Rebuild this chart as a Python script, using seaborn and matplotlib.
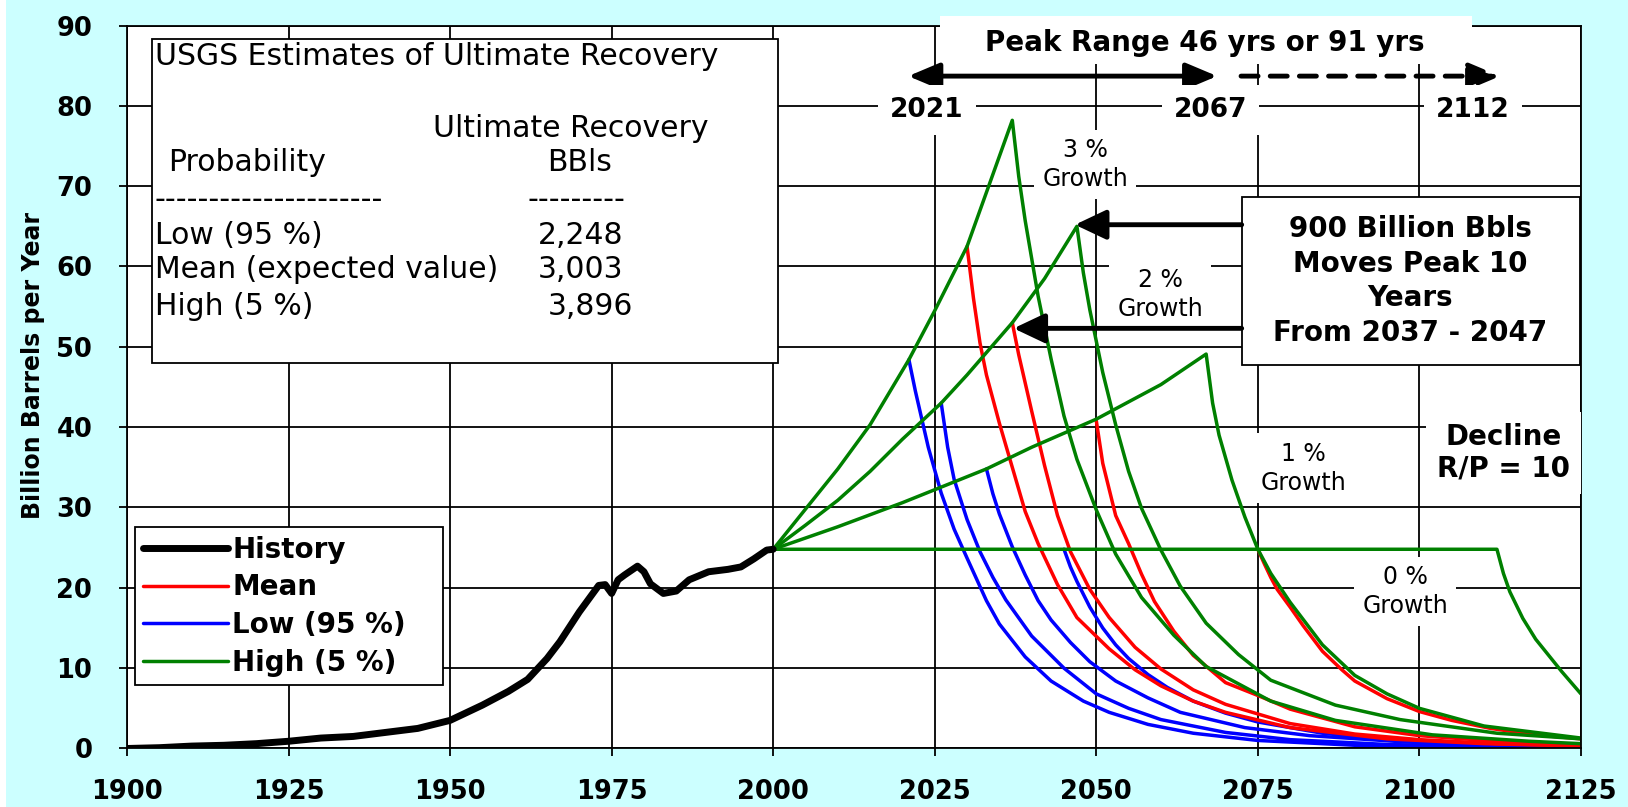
import pandas as pd
import seaborn as sns
import matplotlib.pyplot as plt
from matplotlib.lines import Line2D
from matplotlib.patches import Rectangle

# world oil production history (billion barrels / year)
hist_years = [1900, 1905, 1910, 1915, 1920, 1925, 1930, 1935, 1940, 1945, 1950, 1955,
              1959, 1962, 1965, 1967, 1970, 1973, 1974, 1975, 1976, 1977, 1979, 1980,
              1981, 1983, 1985, 1987, 1990, 1993, 1995, 1997, 1999, 2000]
hist_vals = [0.0, 0.1, 0.3, 0.4, 0.6, 0.9, 1.3, 1.5, 2.0, 2.5, 3.5, 5.4,
             7.1, 8.6, 11.2, 13.3, 17.0, 20.3, 20.4, 19.3, 21.0, 21.6, 22.7, 22.0,
             20.5, 19.3, 19.6, 21.0, 22.0, 22.3, 22.6, 23.6, 24.7, 24.8]

# High (5 %) - 3,896 BBls: growth to peak, then decline R/P = 10
high_3_years = [2000, 2005, 2010, 2015, 2021, 2025, 2030, 2037, 2038, 2039, 2041, 2043,
                2045, 2047, 2050, 2053, 2057, 2062, 2067, 2077, 2087, 2102, 2117, 2125]
high_3_vals = [24.8, 29.8, 34.8, 40.3, 48.4, 54.5, 62.5, 78.2, 71.2, 65.7, 56.3, 48.5,
               41.4, 36.0, 29.7, 24.2, 18.8, 14.1, 10.2, 5.9, 3.5, 1.7, 0.9, 0.6]
high_2_years = [2000, 2005, 2010, 2015, 2020, 2026, 2030, 2037, 2042, 2047, 2048, 2049,
                2051, 2053, 2055, 2057, 2060, 2063, 2067, 2072, 2077, 2087, 2097, 2112, 2125]
high_2_vals = [24.8, 27.8, 30.9, 34.5, 38.5, 43.0, 46.5, 53.0, 58.5, 65.0, 59.2, 54.6,
               46.8, 40.3, 34.5, 29.9, 24.7, 20.2, 15.6, 11.7, 8.5, 5.4, 3.6, 1.9, 1.2]
high_1_years = [2000, 2010, 2020, 2033, 2040, 2050, 2060, 2067, 2068, 2069, 2071, 2073,
                2075, 2077, 2080, 2085, 2090, 2095, 2100, 2110, 2125]
high_1_vals = [24.8, 27.6, 30.6, 34.8, 37.5, 41.0, 45.3, 49.1, 43.0, 39.0, 33.4, 28.8,
               24.8, 21.8, 18.2, 12.9, 9.1, 6.8, 5.0, 2.8, 1.3]
high_0_years = [2000, 2112, 2113, 2114, 2116, 2118, 2120, 2122, 2125]
high_0_vals = [24.8, 24.8, 21.8, 19.5, 16.2, 13.6, 11.6, 9.6, 6.8]

# Mean - 3,003 BBls
mean_3_years = [2030, 2031, 2032, 2033, 2035, 2037, 2039, 2041, 2044, 2047, 2052, 2056,
                2060, 2065, 2070, 2080, 2095, 2110, 2125]
mean_3_vals = [62.5, 56.0, 50.5, 46.5, 40.5, 35.0, 29.5, 25.5, 20.4, 16.3, 12.4, 9.8,
               7.8, 5.9, 4.5, 2.6, 1.2, 0.6, 0.3]
mean_2_years = [2037, 2038, 2039, 2040, 2042, 2044, 2046, 2049, 2052, 2056, 2060, 2065,
                2070, 2080, 2090, 2100, 2112, 2125]
mean_2_vals = [53.0, 49.0, 45.5, 42.0, 35.2, 29.0, 24.5, 19.8, 16.3, 12.6, 9.9, 7.3,
               5.5, 3.1, 1.8, 1.1, 0.6, 0.35]
mean_1_years = [2050, 2051, 2053, 2055, 2057, 2059, 2062, 2065, 2070, 2075, 2080, 2090,
                2100, 2112, 2125]
mean_1_vals = [40.8, 35.5, 29.0, 25.5, 21.7, 18.3, 14.6, 11.6, 8.2, 6.6, 4.9, 2.7,
               1.6, 0.9, 0.5]
mean_0_years = [2075, 2076, 2077, 2078, 2080, 2082, 2085, 2088, 2090, 2095, 2100, 2105,
                2111, 2118, 2125]
mean_0_vals = [24.8, 23.0, 21.3, 19.8, 17.6, 15.3, 12.1, 9.8, 8.4, 6.2, 4.6, 3.5,
               2.5, 1.7, 1.2]

# Low (95 %) - 2,248 BBls
low_3_years = [2021, 2022, 2023, 2024, 2026, 2028, 2030, 2033, 2035, 2039, 2043, 2048,
               2052, 2058, 2065, 2075, 2090, 2105, 2125]
low_3_vals = [48.4, 44.5, 41.0, 37.5, 31.8, 27.3, 23.7, 18.4, 15.5, 11.4, 8.4, 5.9,
              4.5, 3.0, 1.9, 1.0, 0.4, 0.2, 0.1]
low_2_years = [2026, 2027, 2028, 2030, 2032, 2034, 2036, 2040, 2045, 2050, 2055, 2060,
               2070, 2080, 2095, 2110, 2125]
low_2_vals = [43.0, 37.5, 33.5, 28.5, 24.5, 21.3, 18.5, 14.0, 10.0, 6.8, 5.0, 3.6,
              2.0, 1.1, 0.5, 0.25, 0.15]
low_1_years = [2033, 2034, 2035, 2037, 2039, 2041, 2043, 2046, 2049, 2053, 2058, 2063,
               2073, 2083, 2098, 2113, 2125]
low_1_vals = [34.8, 31.7, 29.2, 25.1, 21.6, 18.4, 16.0, 13.2, 10.8, 8.4, 6.3, 4.5,
              2.6, 1.6, 0.8, 0.4, 0.25]
low_0_years = [2045, 2046, 2047, 2049, 2051, 2053, 2055, 2058, 2061, 2065, 2070, 2075,
               2085, 2095, 2110, 2125]
low_0_vals = [24.8, 22.6, 20.8, 17.6, 15.0, 12.9, 11.2, 9.2, 7.6, 5.9, 4.4, 3.3,
              1.9, 1.1, 0.5, 0.3]

cases = ["Low (95 %)", "Mean", "High (5 %)"]
case_colors = {"Low (95 %)": "#0000ff", "Mean": "#ff0000", "High (5 %)": "#008000"}

curves = {
    ("Low (95 %)", "3 %"): (low_3_years, low_3_vals),
    ("Low (95 %)", "2 %"): (low_2_years, low_2_vals),
    ("Low (95 %)", "1 %"): (low_1_years, low_1_vals),
    ("Low (95 %)", "0 %"): (low_0_years, low_0_vals),
    ("Mean", "3 %"): (mean_3_years, mean_3_vals),
    ("Mean", "2 %"): (mean_2_years, mean_2_vals),
    ("Mean", "1 %"): (mean_1_years, mean_1_vals),
    ("Mean", "0 %"): (mean_0_years, mean_0_vals),
    ("High (5 %)", "3 %"): (high_3_years, high_3_vals),
    ("High (5 %)", "2 %"): (high_2_years, high_2_vals),
    ("High (5 %)", "1 %"): (high_1_years, high_1_vals),
    ("High (5 %)", "0 %"): (high_0_years, high_0_vals),
}
rows = []
for (case, growth), (yrs, vals) in curves.items():
    for yr, v in zip(yrs, vals):
        rows.append((case, f"{case} {growth}", yr, v))
df = pd.DataFrame(rows, columns=["case", "curve", "year", "value"])

sns.set_theme(style="ticks")
plt.rcParams["font.family"] = ["DejaVu Sans"]
plt.rcParams.update({"text.color": "black", "axes.labelcolor": "black",
                     "xtick.color": "black", "ytick.color": "black"})

fig = plt.figure(figsize=(16.28, 8.07), dpi=100, facecolor="#ccffff")
# thin white strip at the far left, as in the screenshot
fig.patches.append(Rectangle((0, 0), 6 / 1628, 1, transform=fig.transFigure,
                             facecolor="white", edgecolor="none"))
ax = fig.add_axes([0.078, 0.0725, 0.8931, 0.8959])
ax.set_facecolor("white")

sns.lineplot(data=df, x="year", y="value", hue="case", units="curve", estimator=None,
             hue_order=cases, palette=case_colors, linewidth=2.5, legend=False,
             sort=False, ax=ax)
sns.lineplot(x=hist_years, y=hist_vals, color="black", linewidth=5, estimator=None,
             sort=False, ax=ax)

ax.set_xlim(1900, 2125)
ax.set_ylim(0, 90)
ax.set_xticks(range(1900, 2126, 25))
ax.set_yticks(range(0, 91, 10))
ax.grid(True, color="black", linewidth=1.3)
ax.set_axisbelow(True)
ax.tick_params(length=6, width=1.3, color="black", labelsize=18.5)
ax.tick_params(axis="x", pad=16)
ax.tick_params(axis="y", pad=19)
for lbl in ax.get_xticklabels() + ax.get_yticklabels():
    lbl.set_fontweight("bold")
for sp in ax.spines.values():
    sp.set_color("black")
    sp.set_linewidth(1.3)
ax.set_xlabel("")
ax.set_ylabel("Billion Barrels per Year", fontsize=17, fontweight="bold")
ax.yaxis.set_label_coords(-0.0564, 0.530)

# USGS table box
ax.add_patch(Rectangle((1903.9, 48.0), 96.8, 40.3, facecolor="white",
                       edgecolor="black", lw=1.3, zorder=3))
tkw = dict(fontsize=21.5, va="center", zorder=4)
ax.text(1904.3, 86.1, "USGS Estimates of Ultimate Recovery", ha="left", **tkw)
ax.text(1968.7, 77.2, "Ultimate Recovery", ha="center", **tkw)
ax.text(1906.3, 72.9, "Probability", ha="left", **tkw)
ax.text(1970.1, 72.9, "BBls", ha="center", **tkw)
ax.text(1904.3, 68.3, "-" * 21, ha="left", **tkw)
ax.text(1969.6, 68.3, "-" * 9, ha="center", **tkw)
ax.text(1904.3, 63.9, "Low (95 %)", ha="left", **tkw)
ax.text(1904.3, 59.6, "Mean (expected value)", ha="left", **tkw)
ax.text(1904.3, 55.0, "High (5 %)", ha="left", **tkw)
ax.text(1963.6, 63.9, "2,248", ha="left", **tkw)
ax.text(1963.6, 59.6, "3,003", ha="left", **tkw)
ax.text(1965.1, 55.0, "3,896", ha="left", **tkw)

# peak range header
ax.add_patch(Rectangle((2025.8, 85.2), 82.3, 6.0, facecolor="white",
                       edgecolor="none", zorder=3, clip_on=False))
ax.text(2066.8, 87.8, "Peak Range 46 yrs or 91 yrs", ha="center", va="center",
        fontsize=20, fontweight="bold", zorder=4, clip_on=False)
ax.annotate("", xy=(2020.9, 83.7), xytext=(2068.7, 83.7), zorder=4,
            arrowprops=dict(arrowstyle="<|-|>,head_length=0.95,head_width=0.4",
                            color="black", lw=3.5, shrinkA=0, shrinkB=0,
                            mutation_scale=20))
ax.annotate("", xy=(2112.5, 83.7), xytext=(2072.4, 83.7), zorder=4,
            arrowprops=dict(arrowstyle="-|>,head_length=0.95,head_width=0.4",
                            color="black", lw=3.5, shrinkA=0, shrinkB=0,
                            mutation_scale=20, linestyle=(0, (3.5, 2.5))))
ybox = dict(facecolor="white", edgecolor="none", boxstyle="square,pad=0.45")
for xv, lab in [(2023.8, "2021"), (2067.7, "2067"), (2108.3, "2112")]:
    ax.text(xv, 79.5, lab, ha="center", va="center", fontsize=19,
            fontweight="bold", bbox=ybox, zorder=4)

# growth labels
gbox = dict(facecolor="white", edgecolor="none", boxstyle="square,pad=0.35")
for xv, yv, lab in [(2048.3, 72.7, "3 %"), (2059.9, 56.5, "2 %"),
                    (2082.0, 34.9, "1 %"), (2097.8, 19.5, "0 %")]:
    ax.text(xv, yv, f"{lab}\nGrowth", ha="center", va="center", fontsize=17,
            linespacing=1.25, bbox=gbox, zorder=3.5)

ax.text(2113.0, 36.8, "Decline\nR/P = 10", ha="center", va="center", fontsize=20,
        fontweight="bold", linespacing=1.15, zorder=3.5,
        bbox=dict(facecolor="white", edgecolor="none", boxstyle="square,pad=0.4"))

# 900 billion box with arrows
ax.add_patch(Rectangle((2072.5, 47.7), 52.3, 21.0, facecolor="white",
                       edgecolor="black", lw=1.3, zorder=3))
ax.text(2098.6, 58.2, "900 Billion Bbls\nMoves Peak 10\nYears\nFrom 2037 - 2047",
        ha="center", va="center", fontsize=20, fontweight="bold", linespacing=1.3,
        zorder=4)
for ty, tx in [(65.2, 2046.7), (52.3, 2037.2)]:
    ax.annotate("", xy=(tx, ty), xytext=(2072.5, ty), zorder=4,
                arrowprops=dict(arrowstyle="-|>,head_length=0.95,head_width=0.45",
                                color="black", lw=3.5, shrinkA=0, shrinkB=0,
                                mutation_scale=20))

handles = [Line2D([], [], color="black", lw=5),
           Line2D([], [], color=case_colors["Mean"], lw=2.5),
           Line2D([], [], color=case_colors["Low (95 %)"], lw=2.5),
           Line2D([], [], color=case_colors["High (5 %)"], lw=2.5)]
leg = ax.legend(handles, ["History", "Mean", "Low (95 %)   ", "High (5 %)"],
                loc="upper left", bbox_to_anchor=(0.0055, 0.306), borderaxespad=0,
                frameon=True, fancybox=False, framealpha=1,
                prop=dict(weight="bold", size=20), handlelength=3.05,
                handletextpad=0.15, labelspacing=0.35, borderpad=0.3)
leg.get_frame().set_edgecolor("black")
leg.get_frame().set_linewidth(1.3)
leg.set_zorder(5)

fig.savefig("out.png", dpi=100, facecolor=fig.get_facecolor())
